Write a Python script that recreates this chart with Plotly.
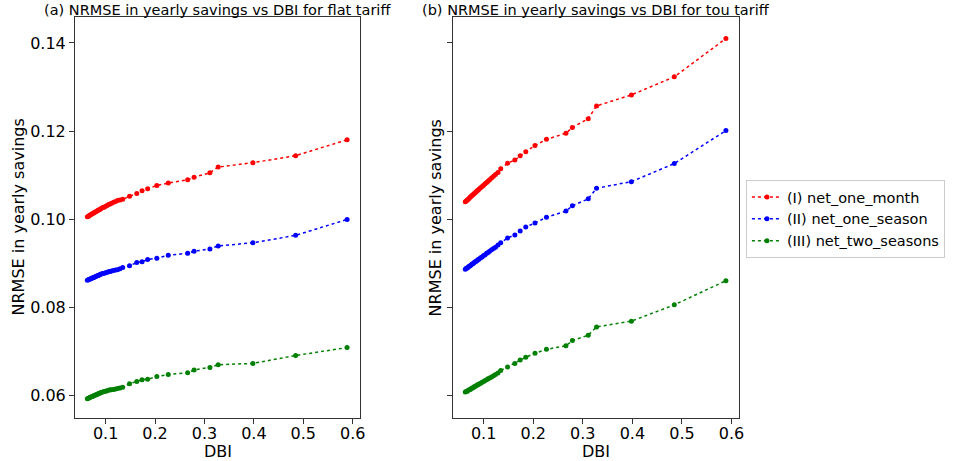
import plotly.graph_objects as go
from plotly.subplots import make_subplots

dbi = [0.063, 0.065, 0.067, 0.069, 0.071, 0.073, 0.075, 0.077, 0.079, 0.081,
       0.083, 0.085, 0.087, 0.089, 0.091, 0.094, 0.097, 0.100, 0.103, 0.106,
       0.109, 0.112, 0.116, 0.120, 0.124, 0.129, 0.1345, 0.1484, 0.163, 0.1737,
       0.185, 0.2036, 0.2267, 0.266, 0.279, 0.311, 0.3277, 0.398, 0.4845, 0.5886]

flat_one_month = [0.1005, 0.1006, 0.1008, 0.1009, 0.1011, 0.1012, 0.1013, 0.1015, 0.1016, 0.1017,
                  0.1019, 0.1020, 0.1021, 0.1022, 0.1024, 0.1026, 0.1027, 0.1029, 0.1031, 0.1033,
                  0.1034, 0.1036, 0.1038, 0.1040, 0.1042, 0.1043, 0.1045, 0.1052, 0.1058, 0.1064,
                  0.1069, 0.1076, 0.1082, 0.1089, 0.1095, 0.1105, 0.1118, 0.1128, 0.1144, 0.1180]
flat_one_season = [0.0861, 0.0862, 0.0863, 0.0864, 0.0865, 0.0866, 0.0867, 0.0868, 0.0869, 0.0870,
                   0.0871, 0.0872, 0.0873, 0.0874, 0.0875, 0.0876, 0.0877, 0.0878, 0.0879, 0.0880,
                   0.0881, 0.0882, 0.0883, 0.0884, 0.0885, 0.0887, 0.0890, 0.0894, 0.0901, 0.0903,
                   0.0908, 0.0911, 0.0918, 0.0922, 0.0927, 0.0932, 0.0939, 0.0946, 0.0963, 0.0999]
flat_two_seasons = [0.0592, 0.0593, 0.0594, 0.0595, 0.0596, 0.0597, 0.0598, 0.0599, 0.0600, 0.0601,
                    0.0602, 0.0603, 0.0604, 0.0605, 0.0606, 0.0607, 0.0608, 0.0609, 0.0610, 0.0611,
                    0.0612, 0.0612, 0.0613, 0.0614, 0.0615, 0.0616, 0.0618, 0.0626, 0.0631, 0.0635,
                    0.0636, 0.0642, 0.0647, 0.0651, 0.0657, 0.0663, 0.0669, 0.0672, 0.0690, 0.0708]

tou_one_month = [0.1039, 0.1041, 0.1043, 0.1045, 0.1047, 0.1050, 0.1052, 0.1054, 0.1056, 0.1058,
                 0.1060, 0.1062, 0.1064, 0.1066, 0.1068, 0.1071, 0.1074, 0.1077, 0.1080, 0.1083,
                 0.1086, 0.1089, 0.1093, 0.1097, 0.1101, 0.1106, 0.1114, 0.1127, 0.1134, 0.1144,
                 0.1153, 0.1167, 0.1181, 0.1195, 0.1208, 0.1228, 0.1257, 0.1282, 0.1323, 0.1410]
tou_one_season = [0.0886, 0.0888, 0.0889, 0.0891, 0.0893, 0.0894, 0.0896, 0.0898, 0.0899, 0.0901,
                  0.0903, 0.0904, 0.0906, 0.0908, 0.0909, 0.0912, 0.0914, 0.0917, 0.0919, 0.0922,
                  0.0924, 0.0927, 0.0930, 0.0933, 0.0936, 0.0941, 0.0946, 0.0957, 0.0964, 0.0973,
                  0.0982, 0.0991, 0.1004, 0.1018, 0.1030, 0.1046, 0.1070, 0.1085, 0.1126, 0.1201]
tou_two_seasons = [0.0607, 0.0608, 0.0609, 0.0611, 0.0612, 0.0613, 0.0615, 0.0616, 0.0617, 0.0619,
                   0.0620, 0.0621, 0.0623, 0.0624, 0.0625, 0.0627, 0.0629, 0.0631, 0.0633, 0.0635,
                   0.0637, 0.0639, 0.0641, 0.0644, 0.0647, 0.0650, 0.0656, 0.0664, 0.0672, 0.0680,
                   0.0686, 0.0695, 0.0704, 0.0712, 0.0724, 0.0736, 0.0755, 0.0768, 0.0805, 0.0860]

series_names = ["(I) net_one_month", "(II) net_one_season", "(III) net_two_seasons"]
colors = ["#ff0000", "#0000ff", "#008000"]
titles = ["(a) NRMSE in yearly savings vs DBI for flat tariff",
          "(b) NRMSE in yearly savings vs DBI for tou tariff"]
x_label = "DBI"
y_label = "NRMSE in yearly savings"

FONT = "DejaVu Sans"

fig = make_subplots(rows=1, cols=2, shared_yaxes=False, horizontal_spacing=0.0)

panels = [[flat_one_month, flat_one_season, flat_two_seasons],
          [tou_one_month, tou_one_season, tou_two_seasons]]

for ci, panel in enumerate(panels):
    for si, vals in enumerate(panel):
        fig.add_trace(go.Scatter(
            x=dbi, y=vals, mode="lines+markers", name=series_names[si],
            line=dict(color=colors[si], dash="dot", width=1.5),
            marker=dict(color=colors[si], size=5),
            showlegend=(ci == 0), legendgroup=series_names[si]),
            row=1, col=ci + 1)

L, R, T, B = 75, 209, 17, 43
W, H = 957, 461
pw = W - L - R
ph = H - T - B
dom1 = [0, (364 - L) / pw]
dom2 = [(458 - L) / pw, 1]

axis_common = dict(showline=True, linecolor="#333333", linewidth=1, mirror=True,
                   ticks="outside", ticklen=5, tickcolor="#333333", showgrid=False,
                   zeroline=False, automargin=False,
                   tickfont=dict(family=FONT, size=16, color="black"))

fig.update_layout(
    width=W, height=H, margin=dict(l=L, r=R, t=T, b=B),
    plot_bgcolor="white", paper_bgcolor="white",
    font=dict(family=FONT, color="black"),
    legend=dict(x=(755 - L) / pw, y=(418 - 219) / ph, xanchor="left", yanchor="middle",
                bordercolor="#cccccc", borderwidth=1,
                font=dict(family=FONT, size=14.5, color="black"),
                tracegroupgap=0),
    xaxis=dict(domain=dom1, range=[0.038, 0.615], dtick=0.1, tick0=0, tickformat=".1f",
               ticklabelstandoff=-4, **axis_common),
    xaxis2=dict(domain=dom2, range=[0.038, 0.615], dtick=0.1, tick0=0, tickformat=".1f",
                ticklabelstandoff=-4, **axis_common),
    yaxis=dict(range=[0.0548, 0.1459], dtick=0.02, tick0=0, tickformat=".2f", **axis_common),
    yaxis2=dict(range=[0.0548, 0.1459], dtick=0.02, tick0=0, showticklabels=False, **axis_common),
)

for i, t in enumerate(titles):
    dom = dom1 if i == 0 else dom2
    xc = (dom[0] + dom[1]) / 2
    fig.add_annotation(text=t, xref="paper", yref="paper", x=xc, y=1.0,
                       yshift=7, xanchor="center", yanchor="middle", showarrow=False,
                       font=dict(family=FONT, size=14.5, color="black"))
    fig.add_annotation(text=x_label, xref="paper", yref="paper", x=xc, y=0.0,
                       yshift=-33, xanchor="center", yanchor="middle", showarrow=False,
                       font=dict(family=FONT, size=16, color="black"))

# y-axis titles
fig.add_annotation(text=y_label, xref="paper", yref="paper", x=dom1[0], y=0.5,
                   xshift=-57, xanchor="center", yanchor="middle", textangle=-90,
                   showarrow=False, font=dict(family=FONT, size=16, color="black"))
fig.add_annotation(text=y_label, xref="paper", yref="paper", x=dom2[0], y=0.5,
                   xshift=-17, xanchor="center", yanchor="middle", textangle=-90,
                   showarrow=False, font=dict(family=FONT, size=16, color="black"))

fig.write_html("out.html")
